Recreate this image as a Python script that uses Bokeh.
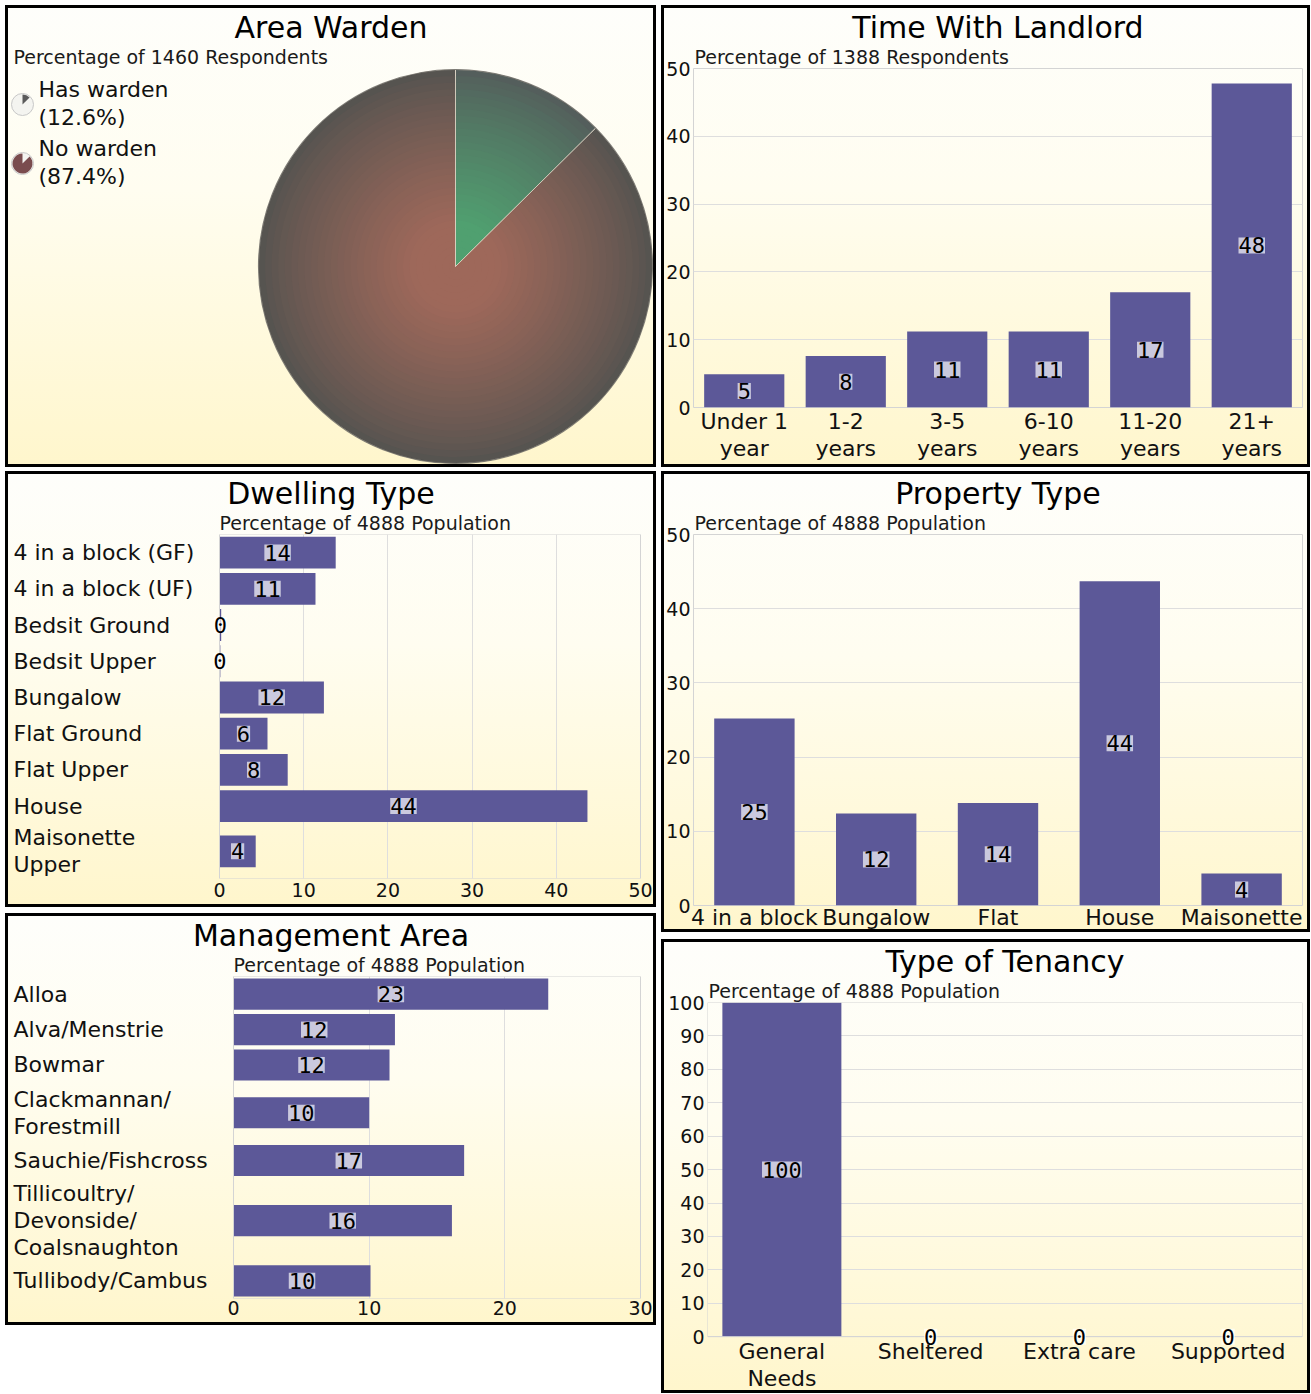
import math
from bokeh.plotting import figure
from bokeh.models import (Range1d, FactorRange, ColumnDataSource, LabelSet, Title,
                          FixedTicker, Spacer)
from bokeh.layouts import row, column
from bokeh.embed import file_html
from bokeh.resources import INLINE
from bokeh.core.properties import value

# ---------------- data ----------------
warden_labels = ["Has warden", "No warden"]
warden_pct = [12.6, 87.4]
warden_respondents = 1460

landlord_cats = ["Under 1\nyear", "1-2\nyears", "3-5\nyears", "6-10\nyears", "11-20\nyears", "21+\nyears"]
landlord_vals = [4.9, 7.6, 11.2, 11.2, 17.0, 47.8]
landlord_respondents = 1388

dwelling_cats = ["4 in a block (GF)", "4 in a block (UF)", "Bedsit Ground", "Bedsit Upper",
                 "Bungalow", "Flat Ground", "Flat Upper", "House", "Maisonette\nUpper"]
dwelling_vals = [13.8, 11.4, 0.2, 0.1, 12.4, 5.7, 8.1, 43.7, 4.3]

property_cats = ["4 in a block", "Bungalow", "Flat", "House", "Maisonette"]
property_vals = [25.2, 12.4, 13.8, 43.7, 4.3]

mgmt_cats = ["Alloa", "Alva/Menstrie", "Bowmar", "Clackmannan/\nForestmill", "Sauchie/Fishcross",
             "Tillicoultry/\nDevonside/\nCoalsnaughton", "Tullibody/Cambus"]
mgmt_vals = [23.2, 11.9, 11.5, 10.0, 17.0, 16.1, 10.1]

tenancy_cats = ["General\nNeeds", "Sheltered", "Extra care", "Supported"]
tenancy_vals = [100, 0, 0, 0]

population = 4888

# ---------------- style ----------------
FONT = "DejaVu Sans"
MONO = "DejaVu Sans Mono"
BAR = "#5c5898"
GRID = "#dedede"
OUTLINE = "#d4d4d4"
PANEL_STYLE = {
    "background-image": "linear-gradient(180deg, #fefefb 0%, #fffdf0 40%, #fff6cc 100%)",
    "outline": "3px solid #000",
    "outline-offset": "-3px",
}
LW, RW = 651, 649
LH = 1.09
TOP = 63


def make_fig(w, h, L, R, B, x_range, y_range, title, subtitle, sub_offset=1,
             x_axis_location="below", y_axis_location="left"):
    p = figure(width=w, height=h, x_range=x_range, y_range=y_range, output_backend="svg",
               toolbar_location=None, title=None, min_border_left=L, min_border_right=R,
               min_border_bottom=B, min_border_top=TOP,
               x_axis_location=x_axis_location, y_axis_location=y_axis_location)
    p.border_fill_color = None
    p.background_fill_color = None
    p.outline_line_color = OUTLINE
    p.styles = PANEL_STYLE
    p.add_layout(Title(text=subtitle, align="left", offset=sub_offset, text_font=FONT,
                       text_font_size="19px", text_font_style="normal", text_color="#1a1a1a",
                       standoff=2), "above")
    p.add_layout(Title(text=title, align="center", offset=(R - L) / 2, text_font=FONT,
                       text_font_size="30px", text_font_style="normal", text_color="#000",
                       standoff=-4), "above")
    return p


def style_axis(ax, size, standoff):
    ax.axis_line_color = None
    ax.major_tick_line_color = None
    ax.minor_tick_line_color = None
    ax.major_tick_out = 0
    ax.major_tick_in = 0
    ax.minor_tick_out = 0
    ax.minor_tick_in = 0
    ax.major_label_text_font = FONT
    ax.major_label_text_font_size = size
    ax.major_label_text_color = "#111"
    ax.major_label_standoff = standoff
    ax.major_label_text_line_height = LH


def value_labels(p, xs, ys, texts):
    src = ColumnDataSource(dict(x=xs, y=ys, t=texts))
    p.add_layout(LabelSet(x="x", y="y", text="t", source=src, text_align="center",
                          text_baseline="middle", text_font=value(MONO), text_font_size="22px",
                          text_color="#000", background_fill_color="white",
                          background_fill_alpha=0.68))


def vbar_chart(cats, vals, ymax, w, h, L, R, B, bar_w, title, subtitle, below_px=0,
               frame_px=340, label_standoff=1):
    ext = below_px * ymax / frame_px
    p = make_fig(w, h, L, R, B, FactorRange(*cats), Range1d(-ext, ymax), title, subtitle)
    p.vbar(x=cats, top=vals, width=bar_w, fill_color=BAR, line_color=None)
    p.xgrid.grid_line_color = None
    p.ygrid.grid_line_color = GRID
    p.yaxis.ticker = FixedTicker(ticks=list(range(0, ymax + 1, 10)))
    style_axis(p.yaxis[0], "19px", 3)
    style_axis(p.xaxis[0], "22px", label_standoff)
    if below_px:
        p.outline_line_color = None
        p.quad(left=0, right=len(cats), bottom=0, top=ymax, fill_color=None,
               line_color=OUTLINE, line_width=1)
    value_labels(p, cats, [v / 2 for v in vals], [str(round(v)) for v in vals])
    return p


def hbar_chart(cats, vals, xmax, w, h, zero_px, R_px, B, title, subtitle, extra_line,
               label_standoff):
    lines = [c.count("\n") + 1 for c in cats]
    weights = [1 + extra_line * (n - 1) for n in lines]
    total = sum(weights)
    centers = []
    acc = 0.0
    for wt in weights:
        centers.append(total - (acc + wt / 2))
        acc += wt
    scale = (w - zero_px - R_px) / xmax
    xr = Range1d(-zero_px / scale, xmax + R_px / scale)
    p = make_fig(w, h, 0, 0, B, xr, Range1d(0, total), title, subtitle,
                 sub_offset=zero_px, y_axis_location=None)
    p.outline_line_color = None
    p.hbar(y=centers, left=0, right=vals, height=0.88, fill_color=BAR, line_color=None)
    p.quad(left=0, right=xmax, bottom=0, top=total, fill_color=None, line_color=OUTLINE,
           line_width=1)
    p.ygrid.grid_line_color = None
    p.xgrid.grid_line_color = GRID
    p.xaxis.ticker = FixedTicker(ticks=list(range(0, xmax + 1, 10)))
    style_axis(p.xaxis[0], "19px", label_standoff)
    src = ColumnDataSource(dict(x=[8] * len(cats), y=centers, t=cats))
    p.add_layout(LabelSet(x="x", y="y", text="t", source=src, x_units="screen",
                          text_align="left", text_baseline="middle", text_font=value(FONT),
                          text_font_size="22px", text_color="#111", text_line_height=LH))
    value_labels(p, [v / 2 for v in vals], centers, [str(round(v)) for v in vals])
    return p


def lerp(c0, c1, t):
    return "#%02x%02x%02x" % tuple(int(round(a + (b - a) * t)) for a, b in zip(c0, c1))


# ---------------- Area Warden (pie) ----------------
PH = 462
FH = PH - TOP
pie = make_fig(LW, PH, 0, 0, 0, Range1d(0, LW), Range1d(0, FH), "Area Warden",
               f"Percentage of {warden_respondents} Respondents", sub_offset=8,
               x_axis_location=None, y_axis_location=None)
pie.grid.visible = False
pie.outline_line_color = None

cx, cy, R = 450, 201, 197
centers_col = [(80, 160, 112), (158, 104, 90)]
edges_col = [(84, 94, 92), (86, 84, 80)]
cum = 0.0
starts, ends = [], []
for pct in warden_pct:
    a_end = math.pi / 2 - cum / 100 * 2 * math.pi
    cum += pct
    a_start = math.pi / 2 - cum / 100 * 2 * math.pi
    starts.append(a_start)
    ends.append(a_end)

N = 30
for k in range(N):
    r = R * (1 - k / N)
    t = min(1.0, k / (0.8 * (N - 1))) ** 0.85
    for i in range(len(warden_pct)):
        pie.wedge(x=cx, y=cy, radius=r, radius_units="screen", start_angle=starts[i],
                  end_angle=ends[i], fill_color=lerp(edges_col[i], centers_col[i], t),
                  line_color=None)
for i in range(len(warden_pct)):
    pie.wedge(x=cx, y=cy, radius=R, radius_units="screen", start_angle=starts[i],
              end_angle=ends[i], fill_color=None, line_color="#ece4d4", line_alpha=0.55,
              line_width=1)
pie.circle(x=cx, y=cy, radius=R, radius_units="screen", fill_color=None,
           line_color="#444442", line_alpha=0.6, line_width=1.2)

icon_cols = ["#5a5a5a", "#7a4c4e"]
ly = [363 - 59 * i for i in range(len(warden_labels))]
for i in range(len(warden_labels)):
    pie.circle(x=17, y=ly[i], radius=11, radius_units="screen", fill_color="#f4f4f0",
               line_color="#c8c8c8", line_width=1)
    pie.wedge(x=17, y=ly[i], radius=10, radius_units="screen", start_angle=starts[i],
              end_angle=ends[i], fill_color=icon_cols[i], line_color=None)
leg_src = ColumnDataSource(dict(
    x=[33] * len(warden_labels), y=[v + 1 for v in ly],
    t=[f"{n}\n({v:.1f}%)" for n, v in zip(warden_labels, warden_pct)]))
pie.add_layout(LabelSet(x="x", y="y", text="t", source=leg_src, text_align="left",
                        text_baseline="middle", text_font=value(FONT), text_font_size="22px",
                        text_color="#111", text_line_height=LH))

# ---------------- other charts ----------------
landlord = vbar_chart(landlord_cats, landlord_vals, 50, RW, 462, 32, 8, 60, 0.79,
                      "Time With Landlord", f"Percentage of {landlord_respondents} Respondents",
                      label_standoff=1)
prop = vbar_chart(property_cats, property_vals, 50, RW, 461, 32, 8, 27, 0.66,
                  "Property Type", f"Percentage of {population} Population",
                  label_standoff=-1)
tenancy = vbar_chart(tenancy_cats, tenancy_vals, 100, RW, 454, 46, 8, 40, 0.8,
                     "Type of Tenancy", f"Percentage of {population} Population",
                     below_px=12, frame_px=339, label_standoff=-10)
dwelling = hbar_chart(dwelling_cats, dwelling_vals, 50, LW, 436, 214, 16, 29,
                      "Dwelling Type", f"Percentage of {population} Population", 0.5, 4)
mgmt = hbar_chart(mgmt_cats, mgmt_vals, 30, LW, 412, 228, 16, 27,
                  "Management Area", f"Percentage of {population} Population", 0.7, 2)

left = column(Spacer(width=LW, height=5), row(pie), Spacer(width=LW, height=4), row(dwelling),
              Spacer(width=LW, height=6), row(mgmt), spacing=0)
right = column(Spacer(width=RW, height=5), row(landlord), Spacer(width=RW, height=4), row(prop),
               Spacer(width=RW, height=7), row(tenancy), spacing=0)
layout = row(Spacer(width=5, height=10), left, Spacer(width=5, height=10), right, spacing=0)

open("out.html", "w").write(file_html(layout, INLINE))
